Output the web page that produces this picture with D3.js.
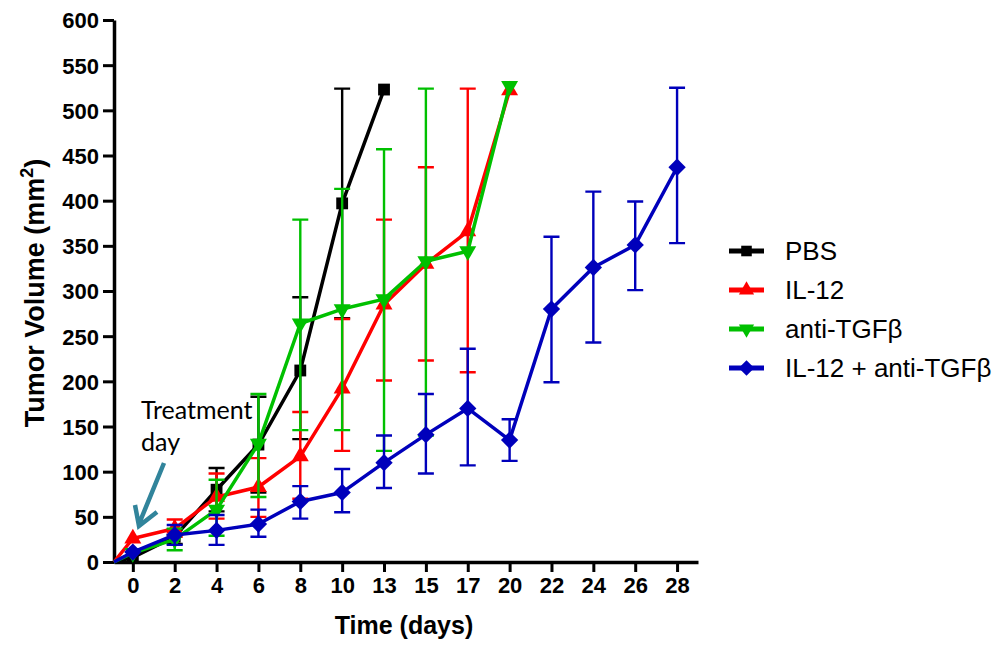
<!DOCTYPE html>
<html>
<head>
<meta charset="utf-8">
<script src="https://cdn.jsdelivr.net/npm/d3@7"></script>
<style>
  body { margin: 0; background: #fff; }
  svg { display: block; }
</style>
</head>
<body>
<div id="chart"></div>
<script>
// tick labels along x (equally spaced categories)
const days = [0, 2, 4, 6, 8, 10, 13, 15, 17, 20, 22, 24, 26, 28]
const yTicks = [0, 50, 100, 150, 200, 250, 300, 350, 400, 450, 500, 550, 600]

// means, upper and lower ends of the error bars (null = no bar)
const pbsMean  = [5, 28, 80, 130, 212, 397, 523]
const pbsUpper = [null, 36, 104, 183, 293, 524, null]
const pbsLower = [null, 20, 56, 77, 136, 270, null]

const il12Mean  = [26, 37, 72, 83, 117, 192, 285, 330, 366, 522]
const il12Upper = [null, 47, 98, 115, 166, 269, 379, 437, 524, null]
const il12Lower = [null, 28, 48, 50, 70, 123, 201, 223, 210, null]

const tgfMean  = [10, 25, 58, 131, 264, 280, 291, 333, 344, 527]
const tgfUpper = [null, 37, 91, 186, 379, 413, 457, 524, null, null]
const tgfLower = [null, 13, 29, 72, 146, 146, 123, 140, null, null]

const comboMean  = [11, 30, 35, 42, 67, 77, 110, 141, 170, 135, 280, 326, 351, 437]
const comboUpper = [null, 41, 52, 58, 84, 103, 140, 186, 236, 158, 360, 410, 399, 525]
const comboLower = [null, 19, 19, 28, 48, 55, 82, 98, 107, 112, 199, 243, 301, 353]

const series = [
    {name: 'PBS', color: '#000000', symbol: 'square', mean: pbsMean, upper: pbsUpper, lower: pbsLower},
    {name: 'IL-12', color: '#ff0000', symbol: 'up', mean: il12Mean, upper: il12Upper, lower: il12Lower},
    {name: 'anti-TGFβ', color: '#00c000', symbol: 'down', mean: tgfMean, upper: tgfUpper, lower: tgfLower},
    {name: 'IL-12 + anti-TGFβ', color: '#0000bb', symbol: 'diamond', mean: comboMean, upper: comboUpper, lower: comboLower}
]

const W = 1008, H = 645
const FONT = '"Liberation Sans", Arial, sans-serif'

const svg = d3.select('#chart').append('svg')
    .attr('width', W)
    .attr('height', H)

// x works on category index, a little room left of day 0
const x = d3.scaleLinear().domain([-0.45, 13.5]).range([114, 698])
const y = d3.scaleLinear().domain([0, 600]).range([562, 20])

function symbolPath(kind, scale = 1) {
    if (kind === 'square') return d3.symbol(d3.symbolSquare, 140 * scale)()
    if (kind === 'diamond') return d3.symbol(d3.symbolSquare, 150 * scale)()
    return d3.symbol(d3.symbolTriangle, 125 * scale)()
}
function symbolRotate(kind) {
    if (kind === 'diamond') return 45
    if (kind === 'down') return 180
    return 0
}

// axes
const xAxis = svg.append('g')
    .attr('transform', `translate(0, ${y(0)})`)
    .call(d3.axisBottom(x)
        .tickValues(d3.range(days.length))
        .tickFormat(i => days[i])
        .tickSize(10)
        .tickSizeOuter(0)
        .tickPadding(5))

const yAxis = svg.append('g')
    .attr('transform', `translate(${x.range()[0]}, 0)`)
    .call(d3.axisLeft(y)
        .tickValues(yTicks)
        .tickSize(11)
        .tickSizeOuter(0)
        .tickPadding(4))

;[xAxis, yAxis].forEach(g => {
    g.select('.domain').attr('stroke', '#000').attr('stroke-width', 3.5)
    g.selectAll('.tick line').attr('stroke', '#000').attr('stroke-width', 3)
    g.selectAll('.tick text')
        .attr('fill', '#000')
        .style('font-family', FONT)
        .style('font-weight', 'bold')
        .style('font-size', '22px')
})
yAxis.selectAll('.tick text').attr('dy', '0.36em')

// axis titles
svg.append('text')
    .attr('x', 404)
    .attr('y', 634)
    .attr('text-anchor', 'middle')
    .style('font-family', FONT)
    .style('font-weight', 'bold')
    .style('font-size', '25px')
    .text('Time (days)')

const yTitle = svg.append('text')
    .attr('transform', 'translate(44, 293) rotate(-90)')
    .attr('text-anchor', 'middle')
    .style('font-family', FONT)
    .style('font-weight', 'bold')
    .style('font-size', '27px')
yTitle.append('tspan').text('Tumor Volume (mm')
yTitle.append('tspan').attr('dy', -11).style('font-size', '18px').text('2')
yTitle.append('tspan').attr('dy', 11).text(')')

const line = d3.line()
    .x(d => x(d.i))
    .y(d => y(d.v))

const CAP = 8

series.forEach(s => {
    const g = svg.append('g')
    const pts = s.mean.map((v, i) => ({i, v, hi: s.upper[i], lo: s.lower[i]}))

    // error bars
    const bars = pts.filter(d => d.hi != null)
    g.selectAll('.bar').data(bars).enter().append('path')
        .attr('d', d => `M${x(d.i)},${y(d.hi)}V${y(d.lo)}` +
            `M${x(d.i) - CAP},${y(d.hi)}H${x(d.i) + CAP}` +
            `M${x(d.i) - CAP},${y(d.lo)}H${x(d.i) + CAP}`)
        .attr('fill', 'none')
        .attr('stroke', s.color)
        .attr('stroke-width', 2.4)

    // line starts from the origin of the axes
    g.append('path')
        .datum([{i: x.domain()[0], v: 0}].concat(pts))
        .attr('d', line)
        .attr('fill', 'none')
        .attr('stroke', s.color)
        .attr('stroke-width', 3.5)
        .attr('stroke-linejoin', 'round')

    g.selectAll('.pt').data(pts).enter().append('path')
        .attr('d', symbolPath(s.symbol))
        .attr('transform', d => `translate(${x(d.i)}, ${y(d.v)}) rotate(${symbolRotate(s.symbol)})`)
        .attr('fill', s.color)
})

// legend
const legend = svg.append('g').attr('transform', 'translate(729, 251)')
series.forEach((s, k) => {
    const row = legend.append('g').attr('transform', `translate(0, ${k * 39})`)
    row.append('line')
        .attr('x1', 0).attr('x2', 35)
        .attr('stroke', s.color)
        .attr('stroke-width', 5)
    row.append('path')
        .attr('d', symbolPath(s.symbol, 0.8))
        .attr('transform', `translate(17.5, 0) rotate(${symbolRotate(s.symbol)})`)
        .attr('fill', s.color)
    row.append('text')
        .attr('x', 56)
        .attr('dy', '0.36em')
        .style('font-family', FONT)
        .style('font-size', '26px')
        .text(s.name)
})

// treatment annotation
const NOTE_FONT = 'Lato, "Open Sans", sans-serif'
svg.append('text')
    .attr('x', 141)
    .attr('y', 419)
    .style('font-family', NOTE_FONT)
    .style('font-size', '25px')
    .text('Treatment')
svg.append('text')
    .attr('x', 141)
    .attr('y', 451)
    .style('font-family', NOTE_FONT)
    .style('font-size', '25px')
    .text('day')

svg.append('path')
    .attr('d', 'M164,463L139,524M135,505L139,526L157,512')
    .attr('fill', 'none')
    .attr('stroke', '#31849b')
    .attr('stroke-width', 4.5)
    .attr('stroke-linejoin', 'miter')
</script>
</body>
</html>
